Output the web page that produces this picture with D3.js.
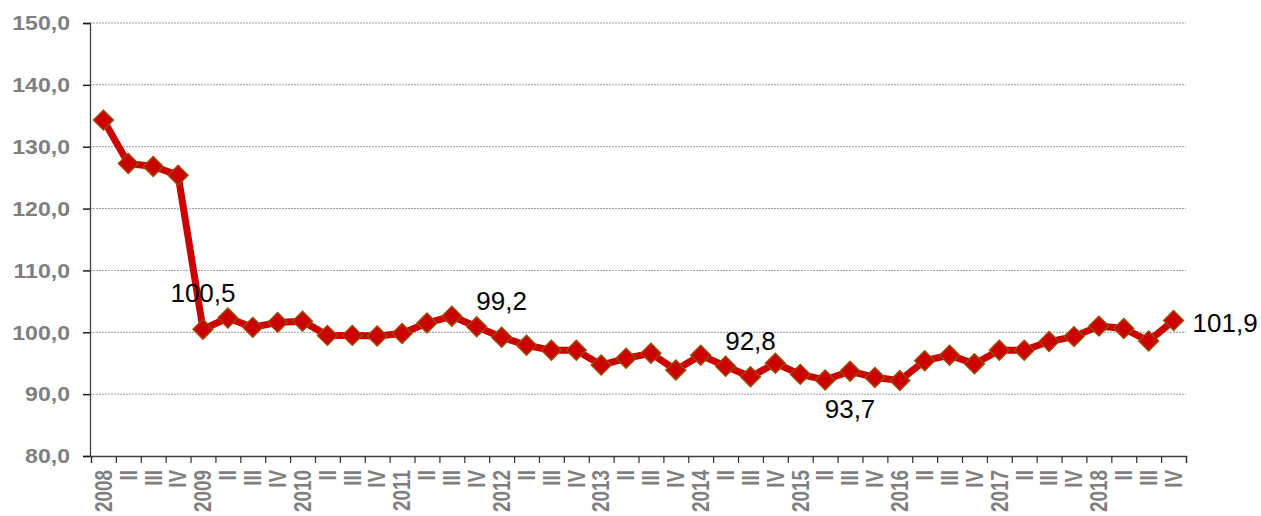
<!DOCTYPE html>
<html><head><meta charset="utf-8">
<script src="https://cdn.jsdelivr.net/npm/d3@7"></script>
<style>
body{margin:0;background:#fff;}
svg{display:block;font-family:"Liberation Sans",Arial,sans-serif;}
</style></head><body>
<svg id="c" width="1261" height="516"></svg>
<script>
const years = ["2008","2009","2010","2011","2012","2013","2014","2015","2016","2017","2018"];
const quarters = ["I","II","III","IV"];
const categories = [];
years.forEach(y => quarters.forEach(q => categories.push(q === "I" ? y : q)));
const values = [134.3,127.3,126.8,125.4, 100.5,102.3,100.8,101.6, 101.8,99.5,99.5,99.4,
  99.8,101.5,102.6,100.9, 99.2,97.9,97.1,97.1, 94.7,95.8,96.6,93.9,
  96.3,94.5,92.8,95.0, 93.2,92.3,93.7,92.7, 92.2,95.4,96.3,94.9,
  97.1,97.1,98.5,99.3, 101.0,100.6,98.6,101.9];
const yTicks = [80,90,100,110,120,130,140,150];
const labelled = [
  {i:4, text:"100,5", pos:"above"},
  {i:16, text:"99,2", pos:"above"},
  {i:26, text:"92,8", pos:"above"},
  {i:30, text:"93,7", pos:"below"},
  {i:43, text:"101,9", pos:"right"}
];

const svg = d3.select("#c");
const L = 90, R = 1186, T = 23, B = 456;
const idx = d3.range(categories.length);
const x = d3.scaleBand().domain(idx).range([L+1, R]).padding(0);
const xb = d3.scaleLinear().domain([0, categories.length]).range([L+1, R]);
const y = d3.scaleLinear().domain([80,150]).range([B, T]);

// grid
svg.append("g").selectAll("line").data(yTicks.slice(1)).join("line")
  .attr("x1", L).attr("x2", R).attr("y1", d=>y(d)).attr("y2", d=>y(d))
  .attr("stroke", "#9a9a9a").attr("stroke-width", 1).attr("stroke-dasharray", "2,1");

// y axis
const ya = svg.append("g").attr("transform", `translate(${L},0)`)
  .call(d3.axisLeft(y).tickValues(yTicks).tickSize(7).tickPadding(13)
    .tickFormat(d => d3.format(".1f")(d).replace(".", ",")));
ya.select(".domain").attr("stroke", "#404040").attr("stroke-width", 1.3);
ya.selectAll(".tick line").attr("stroke", "#202020").attr("stroke-width", 1.5);
ya.selectAll("text").attr("fill", "#7f7f7f").attr("font-size", 21).attr("font-weight", "bold")
  .attr("font-family", "Liberation Sans, Arial, sans-serif")
  .attr("x", -20/1.1).attr("transform", "scale(1.1,1)");

// x axis boundary ticks
const xa = svg.append("g").attr("transform", `translate(0,${B})`)
  .call(d3.axisBottom(xb).tickValues(d3.range(categories.length+1)).tickSize(7).tickFormat(""));
xa.select(".domain").attr("stroke", "#404040").attr("stroke-width", 1.3);
xa.selectAll(".tick line").attr("stroke", "#303030").attr("stroke-width", 1.2);

// x labels
const xl = svg.append("g").attr("transform", `translate(0,${B})`)
  .call(d3.axisBottom(x).tickSize(0).tickFormat(i => categories[i]));
xl.select(".domain").remove();
xl.selectAll("text")
  .attr("transform", "rotate(-90) scale(0.82,1)")
  .attr("x", -14/0.82).attr("y", 0).attr("dy", "0.36em")
  .attr("text-anchor", "end")
  .attr("fill", "#7f7f7f").attr("font-size", 23).attr("font-weight", "bold")
  .attr("font-family", "Liberation Sans, Arial, sans-serif");

const cx = i => x(i) + x.bandwidth()/2;

// line
svg.append("path").datum(values)
  .attr("fill", "none").attr("stroke", "#cc0000").attr("stroke-width", 7)
  .attr("stroke-linejoin", "round")
  .attr("d", d3.line().x((d,i)=>cx(i)).y(d=>y(d)));

// markers
const sym = d3.symbol().type(d3.symbolSquare).size(196);
svg.append("g").selectAll("path").data(values).join("path")
  .attr("d", sym)
  .attr("transform", (d,i)=>`translate(${cx(i)},${y(d)}) rotate(45)`)
  .attr("fill", "#cc0000").attr("stroke", "#9c4a00").attr("stroke-width", 1.5);

// data labels
svg.append("g").selectAll("text").data(labelled).join("text")
  .attr("x", d => d.pos === "right" ? cx(d.i) + 19 : cx(d.i))
  .attr("y", d => d.pos === "above" ? y(values[d.i]) - 27 : d.pos === "below" ? y(values[d.i]) + 47 : y(values[d.i]) + 11)
  .attr("text-anchor", d => d.pos === "right" ? "start" : "middle")
  .attr("font-size", 26).attr("fill", "#000")
  .text(d => d.text);
</script>
</body></html>
